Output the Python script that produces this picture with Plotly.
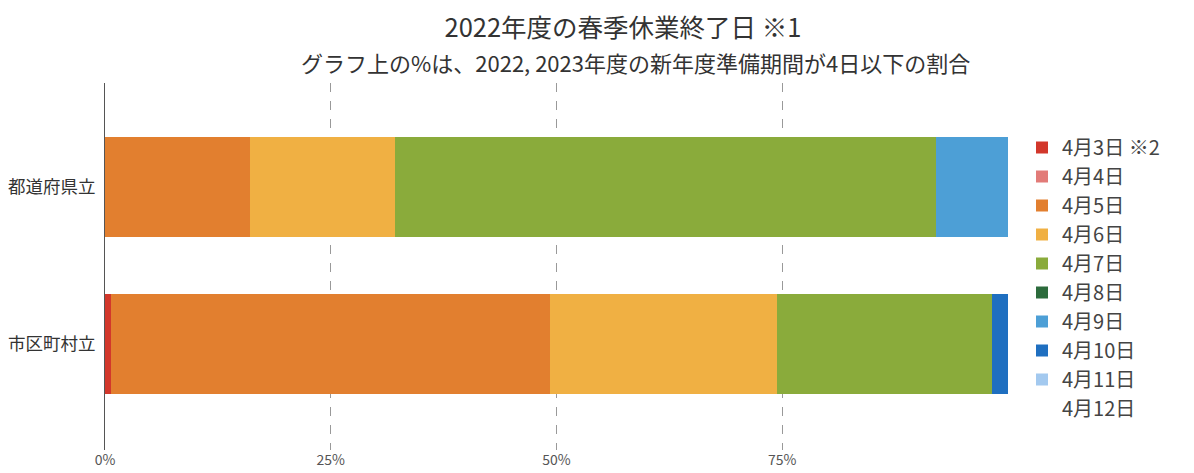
import plotly.graph_objects as go

categories = ["都道府県立", "市区町村立"]
series_names = ["4月3日 ※2", "4月4日", "4月5日", "4月6日", "4月7日", "4月8日",
                "4月9日", "4月10日", "4月11日", "4月12日"]
# percentages: [都道府県立, 市区町村立]
v_0403 = [0.0, 0.7]
v_0404 = [0.0, 0.0]
v_0405 = [16.1, 48.6]
v_0406 = [16.0, 25.1]
v_0407 = [59.9, 23.8]
v_0408 = [0.0, 0.0]
v_0409 = [8.0, 0.0]
v_0410 = [0.0, 1.8]
v_0411 = [0.0, 0.0]
v_0412 = [0.0, 0.0]
values = [v_0403, v_0404, v_0405, v_0406, v_0407, v_0408, v_0409, v_0410, v_0411, v_0412]
colors = ["#d2372b", "#e27b78", "#e27f2f", "#f0b043", "#8aab3b", "#2c6b3c",
          "#4d9fd6", "#1f6fc0", "#a3c9ef", "rgba(0,0,0,0)"]
xticks = [0, 25, 50, 75, 100]
xticktext = ["0%", "25%", "50%", "75%", ""]

FONT = "Noto Sans CJK JP"

fig = go.Figure()
for name, vals, col in zip(series_names, values, colors):
    fig.add_trace(go.Bar(
        y=categories, x=vals, name=name, orientation="h", legendgroup=name,
        marker=dict(color=col, line=dict(width=0)), width=0.64,
    ))

fig.update_layout(
    width=1194, height=473,
    barmode="stack",
    paper_bgcolor="white", plot_bgcolor="white",
    margin=dict(l=97, r=194, t=75, b=31, autoexpand=False),
    font=dict(family=FONT, color="#444"),
    title=dict(text="2022年度の春季休業終了日 ※1", x=615/1194, xanchor="center",
               y=1 - 20/473, yanchor="middle", yref="container",
               font=dict(size=25.5, color="#333", family=FONT)),
    showlegend=True,
    legend=dict(x=1.0155, xanchor="left", y=1 - (120 - 75) / 367, yanchor="top",
                traceorder="normal", tracegroupgap=3.8,
                font=dict(size=20, color="#444", family=FONT),
                itemwidth=30, bgcolor="rgba(0,0,0,0)"),
    xaxis=dict(range=[0, 100], tickvals=xticks, ticktext=xticktext,
               showgrid=True, gridcolor="#999", griddash="dash", gridwidth=1,
               zeroline=False, showline=False, ticks="", automargin=False,
               tickfont=dict(size=14, color="#555"), ticklabelstandoff=0,
               fixedrange=True),
    yaxis=dict(categoryorder="array", categoryarray=["市区町村立", "都道府県立"],
               range=[-0.68, 1.665], showline=True, linecolor="#555", linewidth=1,
               showgrid=False, zeroline=False, ticks="", automargin=False,
               tickfont=dict(size=17.5, color="#333"), ticklabelstandoff=5),
    annotations=[dict(text="グラフ上の%は、2022, 2023年度の新年度準備期間が4日以下の割合",
                      xref="paper", yref="paper", x=(627 - 97) / 903, y=1 + (75 - 54) / 367,
                      xanchor="center", yanchor="middle", showarrow=False,
                      font=dict(size=22, color="#333", family=FONT))],
)

fig.write_html("out.html")
